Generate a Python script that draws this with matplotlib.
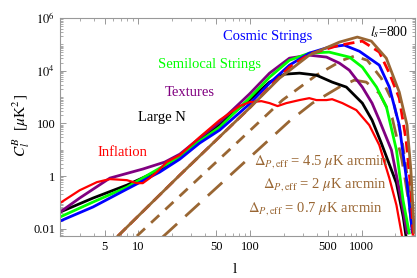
import numpy as np
import matplotlib
matplotlib.use("Agg")
import matplotlib.pyplot as plt
from matplotlib.ticker import FixedLocator, NullFormatter

plt.rcParams['font.family'] = ['Liberation Serif', 'DejaVu Serif']
plt.rcParams['mathtext.fontset'] = 'stix'

# Data (multipole l, C_l^B)
l_strings = [2, 3.94, 7.93, 15.6, 23.6, 35.5, 53.7, 99, 150, 226, 340, 512, 700, 955, 1440, 1770, 2173, 2550, 2840]
c_strings = [0.0196, 0.067, 0.32, 1.42, 4.4, 17.9, 56, 540, 3380, 16300, 46500, 79000, 93500, 55000, 16300, 2400, 86, 0.54, 0.0075]

l_semilocal = [2, 3.94, 7.93, 15.6, 23.6, 35.5, 53.7, 99, 150, 226, 340, 512, 776, 1015, 1360, 1670, 2050, 2350, 2670]
c_semilocal = [0.028, 0.103, 0.38, 2.0, 5.3, 21, 72, 910, 5700, 25000, 46500, 51000, 33000, 13700, 2400, 415, 9.7, 0.12, 0.0069]

l_textures = [2, 3.0, 5.59, 11.0, 17.3, 23.6, 35.5, 53.7, 99, 150, 226, 340, 485, 632, 776, 1015, 1240, 1440, 1850, 2270, 2550]
c_textures = [0.043, 0.147, 0.84, 1.85, 3.4, 6.8, 27.7, 112, 1300, 8100, 30000, 39000, 33000, 19500, 10500, 2400, 590, 134, 9.7, 0.12, 0.0069]

l_largen = [2, 3.94, 7.93, 15.6, 23.6, 35.5, 53.7, 99, 150, 204, 278, 394, 545, 730, 1015, 1240, 1500, 2050, 2360, 2500]
c_largen = [0.043, 0.146, 0.455, 1.69, 5.3, 23, 94, 770, 3700, 7400, 8100, 6800, 3700, 2400, 590, 134, 18, 0.54, 0.028, 0.0049]

l_inflation = [2, 3.0, 4.28, 5.59, 7.93, 9.74, 11.0, 12.7, 14.7, 18.0, 23.6, 35.5, 53.7, 81, 99, 127, 150, 177, 212, 278,
               340, 394, 485, 545, 673, 897, 1172, 1440, 1770, 2050, 2300]
c_inflation = [0.095, 0.29, 0.59, 0.77, 0.70, 0.54, 0.54, 0.84, 1.42, 3.4, 6.3, 30, 134, 455, 640, 700, 590, 455, 590, 770,
               910, 770, 770, 830, 590, 320, 86, 15, 0.84, 0.079, 0.0053]

l_lens = [6.59, 23.6, 99, 150, 226, 340, 632, 1015, 1440, 1770, 2173, 2500, 2760, 2890]
c_lens = [0.0053, 1.09, 380, 2400, 13700, 42500, 93500, 133000, 51000, 8100, 910, 23, 0.29, 0.0053]

l_noise_45 = [6.59, 23.6, 99, 184, 340, 632, 916, 1222, 1664, 2173, 2550, 2760, 2960]
c_noise_45 = [0.0053, 1.09, 380, 5200, 39000, 122000, 190000, 133000, 30000, 1550, 86, 1.7, 0.0075]

l_noise_2 = [9.74, 81, 196, 394, 673, 861, 1125, 1500, 1960, 2300, 2670, 2890]
c_noise_2 = [0.0053, 23, 770, 6800, 25000, 36000, 25000, 5200, 500, 23, 0.29, 0.0053]

l_noise_07 = [16.6, 115, 226, 363, 632, 861, 1100, 1440, 1880, 2300, 2670, 2890]
c_noise_07 = [0.0049, 8.9, 122, 590, 2400, 4400, 3700, 1400, 160, 4.0, 0.079, 0.0053]

BROWN = '#996633'

fig = plt.figure(figsize=(4.17, 2.78), dpi=100)
ax = fig.add_axes([0.144, 0.151, 0.851, 0.784])

ax.plot(l_noise_2, c_noise_2, color=BROWN, lw=2, dashes=(4, 3))
ax.plot(l_noise_07, c_noise_07, color=BROWN, lw=2, dashes=(7, 4))
ax.plot(l_largen, c_largen, color='black', lw=2)
ax.plot(l_textures, c_textures, color='#800080', lw=2)
ax.plot(l_semilocal, c_semilocal, color='#00ff00', lw=2)
ax.plot(l_strings, c_strings, color='#0000ff', lw=2)
ax.plot(l_inflation, c_inflation, color='#ff0000', lw=1.6)
ax.plot(l_lens, c_lens, color='#ff0000', lw=2, dashes=(4, 2))
ax.plot(l_noise_45, c_noise_45, color=BROWN, lw=2)

ax.set_xscale('log')
ax.set_yscale('log')
ax.set_xlim(2, 3000)
ax.set_ylim(0.0053, 1e6)

ax.xaxis.set_major_locator(FixedLocator([5, 10, 50, 100, 500, 1000]))
ax.set_xticklabels(['5', '10', '50', '100', '500', '1000'])
xminor = [m * 10**e for e in range(0, 4) for m in range(2, 10)]
ax.xaxis.set_minor_locator(FixedLocator(xminor))
ax.xaxis.set_minor_formatter(NullFormatter())

ax.yaxis.set_major_locator(FixedLocator([0.01, 1, 100, 1e4, 1e6]))
ax.set_yticklabels(['0.01', '1', '100', r'$10^4$', r'$10^6$'])
yminor = [m * 10.0**e for e in range(-3, 6) for m in range(1, 10) if not (m == 1 and e % 2 == 0)]
ax.yaxis.set_minor_locator(FixedLocator(yminor))
ax.yaxis.set_minor_formatter(NullFormatter())

ax.tick_params(which='both', direction='in', top=True, right=True, color='#888888', labelsize=9)
ax.tick_params(which='major', length=4, width=0.6)
ax.tick_params(which='minor', length=2, width=0.5)
for s in ax.spines.values():
    s.set_color('#999999')
    s.set_linewidth(0.8)

ax.text(144, 2.05e5, 'Cosmic Strings', color='#0000ff', fontsize=10.5, ha='center', va='center')
ax.text(43.7, 1.78e4, 'Semilocal Strings', color='#00ff00', fontsize=10.5, ha='center', va='center')
ax.text(29, 1550, 'Textures', color='#800080', fontsize=10.5, ha='center', va='center')
ax.text(16.3, 174, 'Large N', color='black', fontsize=10.5, ha='center', va='center')
ax.text(7.3, 8.1, 'Inflation', color='#ff0000', fontsize=10.5, ha='center', va='center')
ax.text(1767, 2.9e5, r'$l_s$=800', color='black', fontsize=10, ha='center', va='center')

ax.text(0.738, 0.344, r'$\Delta_{P,\mathrm{eff}}$ = 4.5 $\mu$K arcmin', transform=ax.transAxes,
        color=BROWN, fontsize=10.5, ha='center', va='center')
ax.text(0.746, 0.234, r'$\Delta_{P,\mathrm{eff}}$ = 2 $\mu$K arcmin', transform=ax.transAxes,
        color=BROWN, fontsize=10.5, ha='center', va='center')
ax.text(0.721, 0.124, r'$\Delta_{P,\mathrm{eff}}$ = 0.7 $\mu$K arcmin', transform=ax.transAxes,
        color=BROWN, fontsize=10.5, ha='center', va='center')

fig.text(0.562, 0.03, 'l', fontsize=11, ha='center', va='center')
fig.text(0.05, 0.55, r'$C_l^B$  [$\mu$K$^2$]', fontsize=11, rotation=90, ha='center', va='center')

fig.savefig('out.png', dpi=100)
